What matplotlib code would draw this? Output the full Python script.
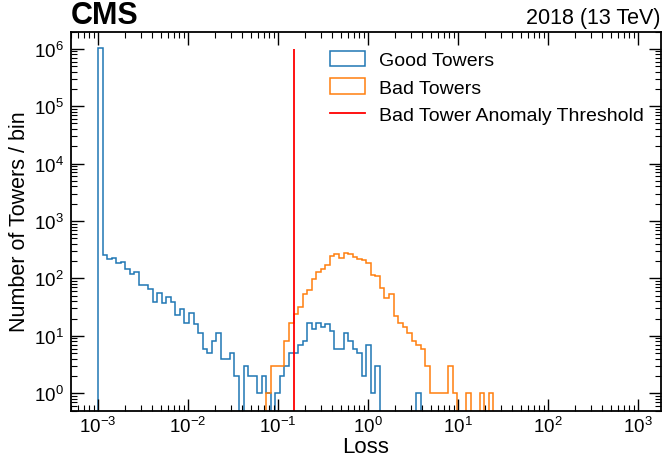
import numpy as np
import matplotlib
matplotlib.use('Agg')
import matplotlib.pyplot as plt
from matplotlib.patches import Patch
from matplotlib.lines import Line2D
from matplotlib.ticker import LogLocator

plt.rcParams['font.family'] = ['Liberation Sans', 'DejaVu Sans']
plt.rcParams['mathtext.fontset'] = 'custom'
plt.rcParams['mathtext.rm'] = 'Liberation Sans'
plt.rcParams['mathtext.it'] = 'Liberation Sans:italic'
plt.rcParams['mathtext.bf'] = 'Liberation Sans:bold'

# histogram bins (log spaced, 99 bins from 1e-3 to 1e2)
bin_edges = np.logspace(-3, 2, 100)

# counts per bin
good_towers = [1040000, 254, 214, 228, 187, 194, 145, 118, 127, 78,
               78, 65, 39, 56, 38, 48, 39, 23, 29, 17,
               25, 16, 11, 6, 5, 8, 11, 4, 4, 5,
               2, 0, 3, 2, 2, 1, 2, 1, 0, 1,
               2, 3, 5, 5, 7, 8, 17, 13, 17, 14,
               16, 12, 6, 6, 11, 8, 6, 5, 2, 7,
               1, 3, 0, 0, 0, 0, 0, 0, 0, 0,
               1, 0, 0, 0, 0, 0, 0, 0, 0, 0,
               0, 0, 0, 0, 0, 0, 0, 0, 0, 0,
               0, 0, 0, 0, 0, 0, 0, 0, 0]
bad_towers = [0, 0, 0, 0, 0, 0, 0, 0, 0, 0,
              0, 0, 0, 0, 0, 0, 0, 0, 0, 0,
              0, 0, 0, 0, 0, 0, 0, 0, 0, 0,
              0, 0, 0, 0, 0, 0, 0, 1, 3, 3,
              3, 8, 17, 24, 32, 54, 62, 99, 130, 147,
              172, 250, 264, 231, 279, 264, 238, 222, 210, 188,
              116, 112, 67, 46, 54, 22, 17, 14, 11, 8,
              7, 6, 3, 1, 1, 1, 1, 3, 1, 0,
              0, 1, 0, 0, 1, 0, 1, 0, 0, 0,
              0, 0, 0, 0, 0, 0, 0, 0, 0]
threshold = 0.15
labels = ['Good Towers', 'Bad Towers', 'Bad Tower Anomaly Threshold']

blue = '#1f77b4'
orange = '#ff7f0e'

fig = plt.figure(figsize=(6.63, 4.64), dpi=100)
ax = fig.add_axes([71/663, (464-411.5)/464, 590/663, 379/464])

ax.stairs(good_towers, bin_edges, color=blue, linewidth=1.1, baseline=0)
ax.stairs(bad_towers, bin_edges, color=orange, linewidth=1.1, baseline=0)
ax.vlines(threshold, 0.5, 1e6, color='red', linewidth=1.3)

ax.set_xscale('log')
ax.set_yscale('log')
ax.set_xlim(5e-4, 1.8e3)
ax.set_ylim(0.5, 2e6)

ax.xaxis.set_major_locator(LogLocator(base=10, numticks=20))
ax.xaxis.set_minor_locator(LogLocator(base=10, subs=np.arange(2, 10), numticks=20))
ax.yaxis.set_major_locator(LogLocator(base=10, numticks=20))
ax.yaxis.set_minor_locator(LogLocator(base=10, subs=np.arange(2, 10), numticks=20))

ax.tick_params(which='both', direction='in', top=True, right=True, labelsize=13.5)
ax.tick_params(which='major', length=9, width=1)
ax.tick_params(which='minor', length=4.5, width=0.8)
ax.tick_params(axis='x', pad=4)
ax.tick_params(axis='y', pad=5)
for s in ax.spines.values():
    s.set_linewidth(1.3)

ax.set_xlabel('Loss', fontsize=16, labelpad=0)
ax.set_ylabel('Number of Towers / bin', fontsize=15.5, labelpad=3)

handles = [Patch(facecolor='none', edgecolor=blue, linewidth=1.1),
           Patch(facecolor='none', edgecolor=orange, linewidth=1.1),
           Line2D([], [], color='red', linewidth=1.3)]
ax.legend(handles, labels, loc='upper left', bbox_to_anchor=(0.41, 0.995),
          frameon=False, fontsize=14, handlelength=1.8, handleheight=0.85,
          labelspacing=0.45, handletextpad=0.7)

ax.text(0.0, 1.005, 'CMS', transform=ax.transAxes, fontsize=22, fontweight='bold',
        ha='left', va='bottom')
ax.text(1.0, 1.01, '2018 (13 TeV)', transform=ax.transAxes, fontsize=15.5,
        ha='right', va='bottom')

fig.savefig('out.png', dpi=100)
